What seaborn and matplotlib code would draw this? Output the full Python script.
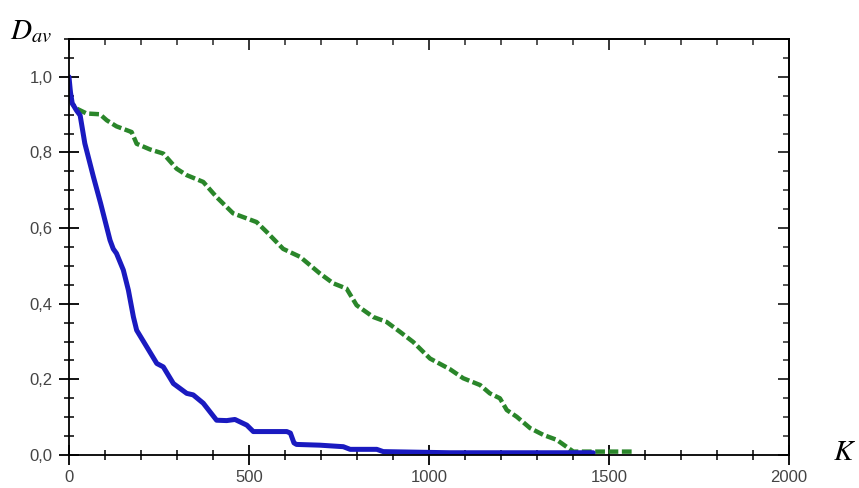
import matplotlib
matplotlib.use("Agg")
import matplotlib.pyplot as plt
from matplotlib.ticker import MultipleLocator, FuncFormatter
import seaborn as sns
import pandas as pd

# values
blue_k = [0, 4, 9, 21, 31, 44, 68, 88, 114, 123, 132, 151, 165, 179, 188, 216, 244,
          262, 290, 327, 345, 373, 410, 438, 461, 494, 512, 605, 615, 625, 632, 697,
          762, 781, 855, 873, 1058, 1456]
blue_d = [1.0, 0.96, 0.93, 0.911, 0.898, 0.824, 0.735, 0.665, 0.568, 0.545, 0.533,
          0.489, 0.436, 0.365, 0.330, 0.286, 0.242, 0.233, 0.189, 0.163, 0.159, 0.137,
          0.092, 0.091, 0.094, 0.079, 0.062, 0.062, 0.058, 0.032, 0.028, 0.026, 0.022,
          0.015, 0.015, 0.009, 0.006, 0.006]

green_k = [0, 8, 21, 49, 86, 105, 132, 174, 188, 225, 262, 299, 327, 373, 410, 456,
           521, 549, 595, 642, 697, 734, 771, 799, 845, 882, 919, 956, 1003, 1058,
           1095, 1142, 1169, 1197, 1216, 1244, 1281, 1318, 1355, 1401, 1568]
green_d = [0.98, 0.93, 0.916, 0.903, 0.901, 0.885, 0.869, 0.854, 0.823, 0.808, 0.797,
           0.757, 0.740, 0.722, 0.682, 0.639, 0.616, 0.590, 0.545, 0.524, 0.480, 0.454,
           0.440, 0.396, 0.365, 0.352, 0.326, 0.299, 0.255, 0.227, 0.203, 0.185, 0.163,
           0.150, 0.119, 0.101, 0.071, 0.053, 0.040, 0.009, 0.009]

sns.set_style("ticks")
plt.rcParams["font.family"] = ["Liberation Sans", "DejaVu Sans"]
plt.rcParams["mathtext.fontset"] = "stix"

blue = pd.DataFrame({"K": blue_k, "D": blue_d})
green = pd.DataFrame({"K": green_k, "D": green_d})

fig = plt.figure(figsize=(8.59, 4.88), dpi=100)
ax = fig.add_axes([0.0803, 0.0676, 0.8382, 0.8525])

sns.lineplot(data=green, x="K", y="D", ax=ax, color="#2a862a", linewidth=3.2,
             linestyle=(0, (2.2, 0.8)), sort=False)
sns.lineplot(data=blue, x="K", y="D", ax=ax, color="#1a1ac0", linewidth=3.6,
             sort=False)

ax.set_xlim(0, 2000)
ax.set_ylim(0, 1.1)
ax.xaxis.set_major_locator(MultipleLocator(500))
ax.xaxis.set_minor_locator(MultipleLocator(100))
ax.yaxis.set_major_locator(MultipleLocator(0.2))
ax.yaxis.set_minor_locator(MultipleLocator(0.05))
ax.yaxis.set_major_formatter(FuncFormatter(lambda v, p: f"{v:.1f}".replace(".", ",")))
ax.set_xlabel("")
ax.set_ylabel("")

ax.tick_params(which="major", direction="inout", length=14, width=1.3,
               labelsize=12, labelcolor="#444444", color="black")
ax.tick_params(which="minor", direction="inout", length=7, width=1.1, color="black")
ax.tick_params(axis="x", pad=4)
ax.tick_params(axis="y", pad=5)
for s in ax.spines.values():
    s.set_linewidth(1.3)
    s.set_color("black")
    s.set_visible(True)

# inward ticks on top and right
top = ax.secondary_xaxis("top")
top.xaxis.set_major_locator(MultipleLocator(500))
top.xaxis.set_minor_locator(MultipleLocator(100))
top.tick_params(which="major", direction="in", length=8, width=1.3, labeltop=False)
top.tick_params(which="minor", direction="in", length=4, width=1.1)
top.spines["top"].set_linewidth(1.3)
right = ax.secondary_yaxis("right")
right.yaxis.set_major_locator(MultipleLocator(0.2))
right.yaxis.set_minor_locator(MultipleLocator(0.05))
right.tick_params(which="major", direction="in", length=8, width=1.3, labelright=False)
right.tick_params(which="minor", direction="in", length=4, width=1.1)
right.spines["right"].set_linewidth(1.3)

fig.text(0.012, 0.92, r"$D_{av}$", fontsize=21, color="black")
fig.text(0.970, 0.074, r"$K$", fontsize=21, color="black", ha="left", va="center")

fig.savefig("out.png", dpi=100)
